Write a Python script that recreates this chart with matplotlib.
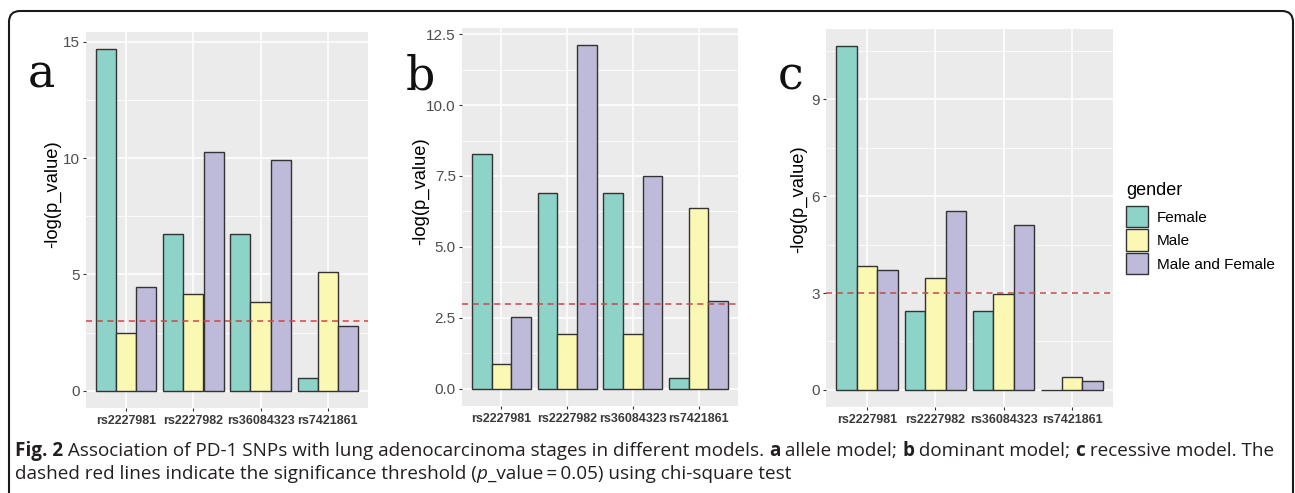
import matplotlib
matplotlib.use("Agg")
import matplotlib.pyplot as plt
from matplotlib.patches import FancyBboxPatch
from matplotlib.transforms import IdentityTransform
from matplotlib.font_manager import FontProperties
import numpy as np

# ---------------- data ----------------
categories = ["rs2227981", "rs2227982", "rs36084323", "rs7421861"]
groups = ["Female", "Male", "Male and Female"]

allele_female = [14.68, 6.73, 6.73, 0.54]
allele_male = [2.47, 4.15, 3.81, 5.12]
allele_both = [4.48, 10.26, 9.90, 2.78]

dominant_female = [8.27, 6.91, 6.91, 0.39]
dominant_male = [0.86, 1.92, 1.92, 6.36]
dominant_both = [2.52, 12.11, 7.50, 3.10]

recessive_female = [10.65, 2.44, 2.44, 0.0]
recessive_male = [3.83, 3.45, 2.96, 0.41]
recessive_both = [3.70, 5.55, 5.11, 0.26]

threshold = 3.0

a_ticks = [0, 5, 10, 15]
a_ticklabels = ["0", "5", "10", "15"]
b_ticks = [0, 2.5, 5.0, 7.5, 10.0, 12.5]
b_ticklabels = ["0.0", "2.5", "5.0", "7.5", "10.0", "12.5"]
c_ticks = [0, 3, 6, 9]
c_ticklabels = ["0", "3", "6", "9"]

panel_letters = ["a", "b", "c"]
ylabel_text = "-log(p_value)"
legend_title = "gender"

caption_line1 = [("Fig. 2", "bold"),
                 (" Association of PD-1 SNPs with lung adenocarcinoma stages in different models. ", "normal"),
                 ("a", "bold"), (" allele model; ", "normal"),
                 ("b", "bold"), (" dominant model; ", "normal"),
                 ("c", "bold"), (" recessive model. The", "normal")]
caption_line2 = [("dashed red lines indicate the significance threshold (", "normal"),
                 ("p", "italic"),
                 ("_value\u2009=\u20090.05) using chi-square test", "normal")]

# ---------------- style ----------------
colors = ["#8DD3C7", "#FBF8B4", "#BEBADA"]
W, H = 1295, 493
plt.rcParams['font.family'] = ['Liberation Sans', 'DejaVu Sans']

fig = plt.figure(figsize=(W / 100, H / 100), dpi=100)
fig.patch.set_facecolor("white")


def rect(l, t, r, b):
    return [l / W, 1 - b / H, (r - l) / W, (b - t) / H]


panels = [
    dict(rect=rect(86, 32, 368, 408), series=[allele_female, allele_male, allele_both],
         ticks=a_ticks, labels=a_ticklabels, ylab=(53, 194), letter=(28, 88)),
    dict(rect=rect(462, 28, 738, 406), series=[dominant_female, dominant_male, dominant_both],
         ticks=b_ticks, labels=b_ticklabels, ylab=(421, 191), letter=(406, 90)),
    dict(rect=rect(826, 29, 1113, 407), series=[recessive_female, recessive_male, recessive_both],
         ticks=c_ticks, labels=c_ticklabels, ylab=(799, 199), letter=(778, 89)),
]

bar_w = 0.3
xpos = np.arange(len(categories))
legend_handles = None
for k, p in enumerate(panels):
    ax = fig.add_axes(p["rect"])
    ax.set_facecolor("#EBEBEB")
    handles = []
    for j, vals in enumerate(p["series"]):
        bc = ax.bar(xpos + (j - 1) * bar_w, vals, width=bar_w, color=colors[j],
                    edgecolor="#333333", linewidth=1.0, label=groups[j], zorder=2)
        handles.append(bc)
    legend_handles = handles
    ymax = max(max(s) for s in p["series"])
    ax.set_ylim(-0.05 * ymax, 1.05 * ymax)
    ax.set_xlim(-0.6, len(categories) - 0.4)
    ax.set_xticks(xpos)
    ax.set_xticklabels(categories)
    ax.set_yticks(p["ticks"])
    ax.set_yticklabels(p["labels"])
    step = p["ticks"][1] - p["ticks"][0]
    minor = [t + step / 2 for t in p["ticks"] if t + step / 2 < 1.05 * ymax]
    ax.set_yticks(minor, minor=True)
    ax.grid(which="major", color="white", linewidth=1.1, zorder=0)
    ax.grid(which="minor", axis="y", color="white", linewidth=0.55, zorder=0)
    ax.set_axisbelow(True)
    for s in ax.spines.values():
        s.set_visible(False)
    ax.tick_params(axis="both", which="major", length=2.5, width=0.8, color="#333333")
    ax.tick_params(axis="both", which="minor", length=0)
    ax.tick_params(axis="y", labelsize=11, labelcolor="#4D4D4D", pad=2)
    ax.tick_params(axis="x", labelsize=9, labelcolor="#3A3A3A", pad=2.5)
    for lbl in ax.get_xticklabels():
        lbl.set_fontweight("bold")
    ax.axhline(threshold, color="#C8474A", linestyle=(0, (4, 3)), linewidth=1.1, zorder=3)
    fig.text(p["ylab"][0] / W, 1 - p["ylab"][1] / H, ylabel_text, rotation=90,
             ha="center", va="center", fontsize=13.2, color="black")
    fig.text(p["letter"][0] / W, 1 - p["letter"][1] / H, panel_letters[k],
             ha="left", va="baseline", fontsize=33, family="DejaVu Serif", color="#111111")

leg = fig.legend(legend_handles, groups, title=legend_title, loc="upper left",
                 bbox_to_anchor=(1126 / W, 1 - 182 / H), frameon=False,
                 fontsize=11, title_fontsize=13, handlelength=1.41, handleheight=1.79,
                 labelspacing=0.13, handletextpad=0.6, borderpad=0, borderaxespad=0)
leg._legend_box.align = "left"
leg._legend_box.sep = 5.0

# border (rounded, open at bottom)
border = FancyBboxPatch((9, -30), 1284, (H - 11) + 30,
                        boxstyle="round,pad=0,rounding_size=11",
                        transform=IdentityTransform(), fill=False,
                        linewidth=1.5, edgecolor="#1a1a1a")
fig.add_artist(border)

# caption
renderer = fig.canvas.get_renderer()
CAP_FONT = "Open Sans"


def prop_for(style, size):
    fp = FontProperties(family=CAP_FONT, size=size)
    if style == "bold":
        fp.set_weight("bold")
    if style == "italic":
        fp.set_style("italic")
    return fp


def seg_width(text, style, size):
    fp = prop_for(style, size)
    w1 = renderer.get_text_width_height_descent("|" + text + "|", fp, ismath=False)[0]
    w0 = renderer.get_text_width_height_descent("||", fp, ismath=False)[0]
    return w1 - w0


base = 11.0
total = sum(seg_width(t, s, base) for t, s in caption_line1)
cap_size = base * (1256.0 / total)


def draw_line(segments, x0, y_base):
    x = x0
    for t, s in segments:
        fp = prop_for(s, cap_size)
        fig.text(x / W, 1 - y_base / H, t, fontproperties=fp, ha="left",
                 va="baseline", color="#231F20")
        x += seg_width(t, s, cap_size)


draw_line(caption_line1, 15, 456)
draw_line(caption_line2, 15, 479)

fig.savefig("out.png", dpi=100)
